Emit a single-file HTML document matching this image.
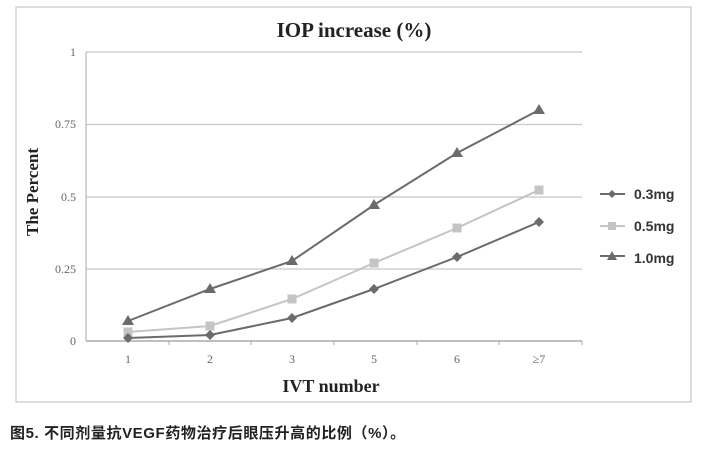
<!DOCTYPE html>
<html><head><meta charset="utf-8"><style>
body{margin:0;background:#fff;width:704px;height:458px;overflow:hidden}
</style></head><body>
<svg width="704" height="458" xmlns="http://www.w3.org/2000/svg">
<rect x="16" y="7" width="675" height="395" fill="#fff" stroke="#bdbdbd" stroke-width="1"/>
<text x="354" y="37" text-anchor="middle" font-family="Liberation Serif, serif" font-weight="bold" font-size="21" fill="#222">IOP increase (%)</text>
<g stroke="#c8c8c8" stroke-width="1.2">
<line x1="86" y1="52" x2="582" y2="52"/>
<line x1="86" y1="124.5" x2="582" y2="124.5"/>
<line x1="86" y1="197" x2="582" y2="197"/>
<line x1="86" y1="269" x2="582" y2="269"/>
</g>
<line x1="86" y1="52" x2="86" y2="341" stroke="#aaa"/>
<line x1="86" y1="341" x2="582" y2="341" stroke="#aaa" stroke-width="1.5"/>
<g stroke="#aaa"><line x1="169" y1="341" x2="169" y2="345"/><line x1="251" y1="341" x2="251" y2="345"/><line x1="334" y1="341" x2="334" y2="345"/><line x1="417" y1="341" x2="417" y2="345"/><line x1="499" y1="341" x2="499" y2="345"/><line x1="582" y1="341" x2="582" y2="345"/></g>
<g font-family="Liberation Serif, serif" font-size="12" fill="#666" text-anchor="end">
<text x="76" y="56">1</text><text x="76" y="128">0.75</text><text x="76" y="201">0.5</text><text x="76" y="273">0.25</text><text x="76" y="345">0</text>
</g>
<g font-family="Liberation Serif, serif" font-size="12" fill="#666" text-anchor="middle">
<text x="128" y="363">1</text><text x="210" y="363">2</text><text x="292" y="363">3</text><text x="374" y="363">5</text><text x="457" y="363">6</text><text x="539" y="363">≥7</text>
</g>
<text x="331" y="392" text-anchor="middle" font-family="Liberation Serif, serif" font-weight="bold" font-size="18" fill="#222">IVT number</text>
<text transform="translate(38,192) rotate(-90)" text-anchor="middle" font-family="Liberation Serif, serif" font-weight="bold" font-size="17" fill="#222">The Percent</text>
<polyline points="128,321 210,289 292,261 374,205 457,153 539,110" fill="none" stroke="#6b6b6b" stroke-width="2"/>
<g fill="#6b6b6b">
<polygon points="128,315 134,325 122,325"/><polygon points="210,283 216,293 204,293"/><polygon points="292,255 298,265 286,265"/><polygon points="374,199 380,209 368,209"/><polygon points="457,147 463,157 451,157"/><polygon points="539,104 545,114 533,114"/>
</g>
<polyline points="128,332 210,326 292,299 374,263 457,228 539,190" fill="none" stroke="#c4c4c4" stroke-width="2"/>
<g fill="#c4c4c4">
<rect x="123.5" y="327.5" width="9" height="9"/><rect x="205.5" y="321.5" width="9" height="9"/><rect x="287.5" y="294.5" width="9" height="9"/><rect x="369.5" y="258.5" width="9" height="9"/><rect x="452.5" y="223.5" width="9" height="9"/><rect x="534.5" y="185.5" width="9" height="9"/>
</g>
<polyline points="128,338 210,335 292,318 374,289 457,257 539,222" fill="none" stroke="#6b6b6b" stroke-width="2"/>
<g fill="#6b6b6b">
<polygon points="128,333 133,338 128,343 123,338"/><polygon points="210,330 215,335 210,340 205,335"/><polygon points="292,313 297,318 292,323 287,318"/><polygon points="374,284 379,289 374,294 369,289"/><polygon points="457,252 462,257 457,262 452,257"/><polygon points="539,217 544,222 539,227 534,222"/>
</g>
<line x1="600" y1="194" x2="625" y2="194" stroke="#6b6b6b" stroke-width="2"/><polygon points="612,190 616,194 612,198 608,194" fill="#6b6b6b"/>
<line x1="600" y1="226" x2="625" y2="226" stroke="#c4c4c4" stroke-width="2"/><rect x="608" y="222" width="8" height="8" fill="#c4c4c4"/>
<line x1="600" y1="256" x2="625" y2="256" stroke="#6b6b6b" stroke-width="2"/><polygon points="612,251 617,260 607,260" fill="#6b6b6b"/>
<g font-family="Liberation Sans, sans-serif" font-weight="bold" font-size="14" fill="#333">
<text x="634" y="199">0.3mg</text><text x="634" y="231">0.5mg</text><text x="634" y="263">1.0mg</text>
</g>
<text x="10" y="438" font-family="Liberation Sans, 'Noto Sans CJK SC', sans-serif" font-weight="bold" font-size="15" letter-spacing="0.6" fill="#222">图5. 不同剂量抗VEGF药物治疗后眼压升高的比例（%）。</text>
</svg>
</body></html>
